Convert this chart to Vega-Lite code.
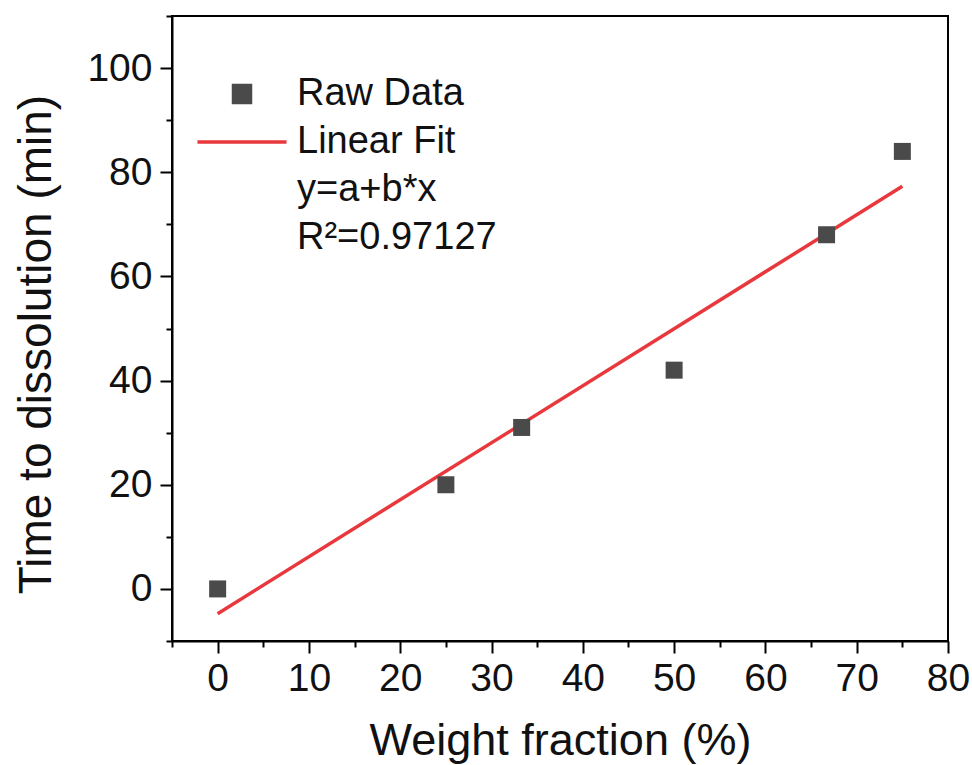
{
  "$schema": "https://vega.github.io/schema/vega-lite/v6.json",
  "width": 776,
  "height": 625,
  "autosize": {"type": "none"},
  "padding": {"left": 172, "top": 16, "right": 24, "bottom": 124},
  "background": "white",
  "config": {
    "view": {"stroke": "#000", "strokeWidth": 2},
    "font": "Liberation Sans",
    "axis": {
      "domainColor": "#000", "domainWidth": 2, "tickColor": "#000", "tickWidth": 2,
      "grid": false, "labelFont": "Liberation Sans", "labelFontSize": 39, "labelColor": "#111",
      "titleFont": "Liberation Sans", "titleFontSize": 45, "titleFontWeight": "normal", "titleColor": "#111"
    }
  },
  "datasets": {
    "raw": [
      {"fraction": 0, "time": 0, "series": "Raw Data"},
      {"fraction": 25, "time": 20, "series": "Raw Data"},
      {"fraction": 33.3, "time": 31, "series": "Raw Data"},
      {"fraction": 50, "time": 42, "series": "Raw Data"},
      {"fraction": 66.7, "time": 68, "series": "Raw Data"},
      {"fraction": 75, "time": 84, "series": "Raw Data"}
    ],
    "fit": [
      {"fraction": 0, "time": -4.75, "series": "Linear Fit"},
      {"fraction": 75, "time": 77.3, "series": "Linear Fit"}
    ]
  },
  "layer": [
    {
      "data": {"name": "fit"},
      "mark": {"type": "line", "strokeWidth": 3.5},
      "encoding": {
        "x": {"field": "fraction", "type": "quantitative",
          "scale": {"domain": [-5, 80], "nice": false, "zero": false},
          "axis": {"orient": "bottom", "values": [-5, 5, 15, 25, 35, 45, 55, 65, 75], "labels": false, "tickSize": 6, "domain": false, "title": null}},
        "y": {"field": "time", "type": "quantitative",
          "scale": {"domain": [-10, 110], "nice": false, "zero": false},
          "axis": {"orient": "left", "values": [-10, 10, 30, 50, 70, 90, 110], "labels": false, "tickSize": 6, "domain": false, "title": null}},
        "color": {"field": "series", "type": "nominal",
          "scale": {"domain": ["Raw Data", "Linear Fit", "y=a+b*x", "R²=0.97127"], "range": ["#4a4a4a", "#e8383d", "transparent", "transparent"]},
          "legend": {
            "orient": "none", "legendX": 51, "legendY": 59, "title": null, "padding": 0,
            "labelFont": "Liberation Sans", "labelFontSize": 38, "labelColor": "#111", "labelLimit": 0,
            "symbolSize": 289, "labelOffset": 36, "rowPadding": 10,
            "encode": {"symbols": {"update": {
              "shape": {"signal": "datum.value === 'Linear Fit' ? 'M-5.24,0H5.24' : 'square'"},
              "fill": {"signal": "datum.value === 'Raw Data' ? '#4a4a4a' : 'transparent'"},
              "stroke": {"signal": "datum.value === 'Linear Fit' ? '#e8383d' : 'transparent'"},
              "strokeWidth": {"value": 3.5},
              "opacity": {"value": 1}
            }}}
          }}
      }
    },
    {
      "data": {"name": "raw"},
      "mark": {"type": "point", "shape": "square", "filled": true, "size": 289, "opacity": 1},
      "encoding": {
        "x": {"field": "fraction", "type": "quantitative",
          "scale": {"domain": [-5, 80], "nice": false, "zero": false},
          "axis": {"orient": "bottom", "values": [0, 10, 20, 30, 40, 50, 60, 70, 80], "tickSize": 12, "labelPadding": 6, "title": "Weight fraction (%)", "titlePadding": 20, "labelFlush": false}},
        "y": {"field": "time", "type": "quantitative",
          "scale": {"domain": [-10, 110], "nice": false, "zero": false},
          "axis": {"orient": "left", "values": [0, 20, 40, 60, 80, 100], "tickSize": 12, "labelPadding": 8, "title": "Time to dissolution (min)", "titleFontSize": 46, "titlePadding": 26, "titleY": 328, "labelFlush": false}},
        "color": {"field": "series", "type": "nominal"}
      }
    }
  ],
  "resolve": {"scale": {"x": "independent", "y": "independent"}}
}
